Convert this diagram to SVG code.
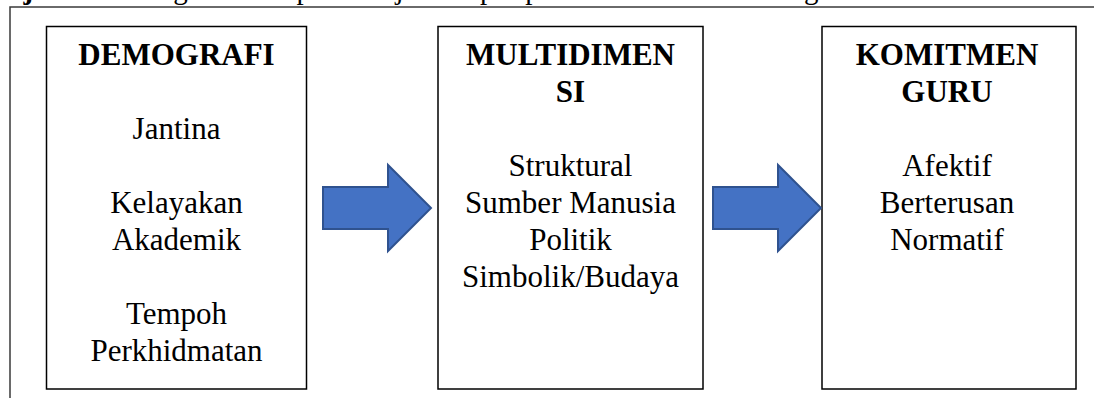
<svg xmlns="http://www.w3.org/2000/svg" width="1094" height="398" viewBox="0 0 1094 398">
<style>
.box{fill:#fff;stroke:#000;stroke-width:1.5}
.frame{fill:none;stroke:#3a3a3a;stroke-width:1.5}
.arrow{fill:#4472C4;stroke:#2F528F;stroke-width:2;stroke-linejoin:miter}
.t{font-family:"Liberation Serif","Times New Roman",serif;font-size:31px;fill:#000;text-anchor:middle}
.b{font-weight:bold}
.cap{font-family:"Liberation Serif","Times New Roman",serif;font-size:29px;fill:#000}
</style>
<rect width="1094" height="398" fill="#fff"/>
<text class="cap" x="-12" y="-1.5"><tspan font-weight="bold">Rajah 1:</tspan> Kerangka Konseptual Kajian Kepimpinan Multidimensi Pengetua dan Komitmen Guru</text>
<path class="frame" d="M10,398 V7 H1094"/>
<g id="demografi">
<rect class="box" x="46.5" y="26.5" width="260" height="362.5"/>
<text class="t b" x="176.5" y="65">DEMOGRAFI</text>
<text class="t" x="176.5" y="139">Jantina</text>
<text class="t" x="176.5" y="213">Kelayakan</text>
<text class="t" x="176.5" y="250">Akademik</text>
<text class="t" x="176.5" y="324">Tempoh</text>
<text class="t" x="176.5" y="361">Perkhidmatan</text>
</g>
<g id="multidimensi">
<rect class="box" x="438" y="26.5" width="265" height="362.5"/>
<text class="t b" x="570.5" y="65">MULTIDIMEN</text>
<text class="t b" x="570.5" y="102">SI</text>
<text class="t" x="570.5" y="176">Struktural</text>
<text class="t" x="570.5" y="213">Sumber Manusia</text>
<text class="t" x="570.5" y="250">Politik</text>
<text class="t" x="570.5" y="287">Simbolik/Budaya</text>
</g>
<g id="komitmen">
<rect class="box" x="822" y="26.5" width="254" height="362.5"/>
<text class="t b" x="947" y="65">KOMITMEN</text>
<text class="t b" x="947" y="102">GURU</text>
<text class="t" x="947" y="176">Afektif</text>
<text class="t" x="947" y="213">Berterusan</text>
<text class="t" x="947" y="250">Normatif</text>
</g>
<g id="connectors">
<polygon class="arrow" points="323,187 388,187 388,165 431,208 388,251 388,229 323,229"/>
<polygon class="arrow" points="713,187 778,187 778,165 821,208 778,251 778,229 713,229"/>
</g>
</svg>
